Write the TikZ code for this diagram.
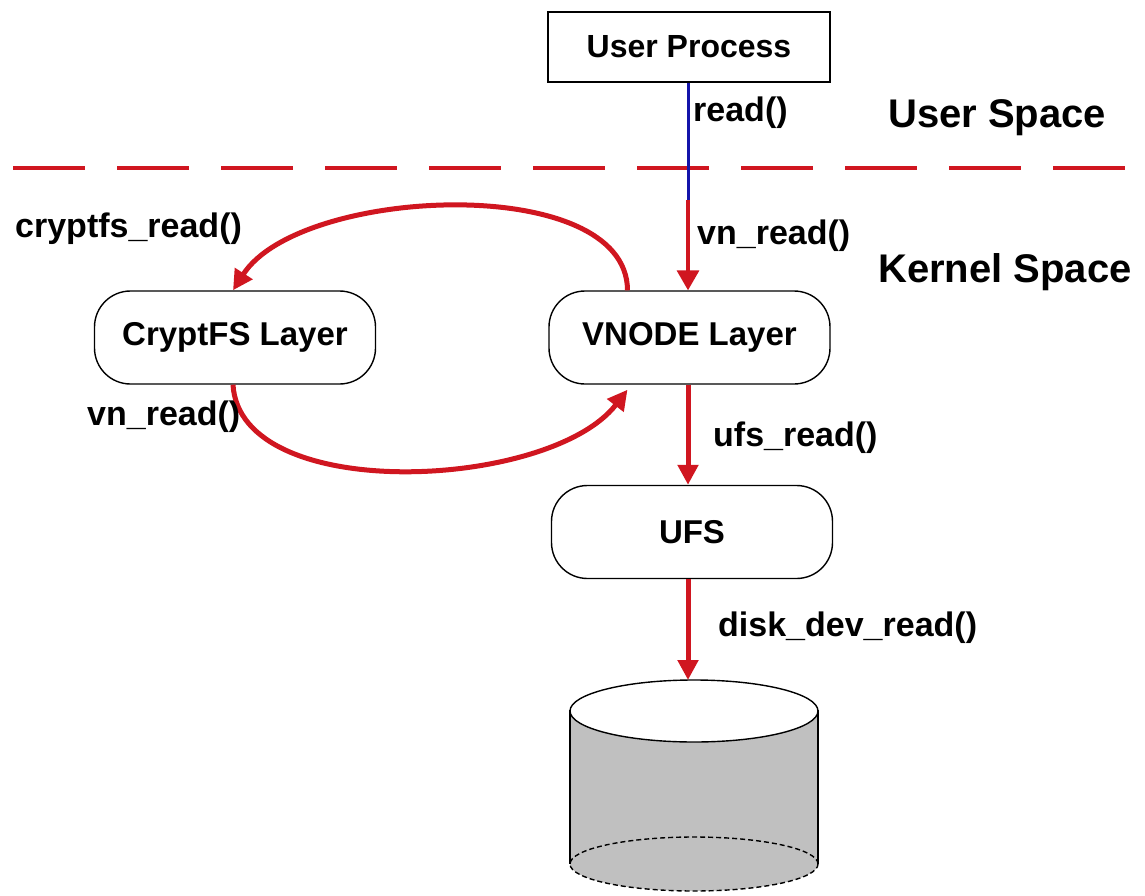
\documentclass[tikz,border=0pt]{standalone}
\usepackage{fontspec}
\setmainfont{Liberation Sans}
\usetikzlibrary{arrows.meta}
\definecolor{myred}{RGB}{208,22,32}
\definecolor{myblue}{RGB}{20,20,170}
\definecolor{diskgray}{RGB}{192,192,192}
\tikzset{
  layer/.style={draw=black, line width=1.4pt, rounded corners=36pt, minimum width=281pt, minimum height=93pt, inner sep=0pt,
    font=\fontsize{33}{40}\selectfont\bfseries},
  procbox/.style={draw=black, line width=1.4pt, minimum width=282pt, minimum height=70pt, inner sep=0pt,
    font=\fontsize{32}{38}\selectfont\bfseries},
  lbl/.style={anchor=west, inner sep=0pt, font=\fontsize{34}{40}\selectfont\bfseries},
  spacelbl/.style={anchor=west, inner sep=0pt, font=\fontsize{40}{46}\selectfont\bfseries},
  flow/.style={draw=myred, line width=5pt, -{Triangle[length=20pt,width=20pt]}},
}
\begin{document}
\begin{tikzpicture}[x=1pt,y=1pt]
\useasboundingbox (0,0) rectangle (1145,-896);

% nodes
\node[procbox] (user) at (689,-47) {User Process};
\node[layer] (crypt) at (235,-337.5) {CryptFS Layer};
\node[layer] (vnode) at (689.5,-337.5) {VNODE Layer};
\node[layer] (ufs) at (692,-532) {UFS};

% disk cylinder
\coordinate (cyltop) at (692,-680);
\coordinate (split) at (688,-200);
\fill[diskgray] (570,-710) -- (570,-864) arc[start angle=180,end angle=360,x radius=124,y radius=27] -- (818,-710) -- cycle;
\draw[line width=1.4pt] (570,-710) -- (570,-864);
\draw[line width=1.4pt] (818,-710) -- (818,-864);
\draw[line width=1.4pt, dashed, dash pattern=on 5pt off 3pt] (694,-864) ellipse[x radius=124, y radius=27];
\draw[line width=1.4pt, fill=white] (694,-711) ellipse[x radius=124, y radius=31];

% dashed boundary
\draw[myred, line width=4pt, dash pattern=on 72pt off 32pt] (13,-168) -- (1135,-168);

% read() / vn_read()
\draw[myblue, line width=3pt] (user.south -| split) -- (split);
\draw[myred, line width=3.5pt, -{Triangle[length=20pt,width=22pt]}] (split) -- (vnode.north -| split);

% layer arrows
\draw[flow] (vnode.south -| split) -- (ufs.north -| split);
\draw[flow] (ufs.south -| split) -- (cyltop -| split);

% loops
\draw[flow] ([xshift=-62pt]vnode.north) .. controls (627,-172) and (300,-186) .. ([xshift=-2pt]crypt.north);
\draw[flow] ([xshift=-2pt]crypt.south) .. controls (240,-505) and (550,-490) .. ([xshift=-62pt,yshift=-5pt]vnode.south);

% labels
\node[lbl] (lread) at (693,-113) {read()};
\node[spacelbl] (lus) at (888,-118) {User Space};
\node[lbl] (lvn) at (697,-236) {vn\_read()};
\node[spacelbl] (lks) at (878,-272) {Kernel Space};
\node[lbl] (lcr) at (15,-229) {cryptfs\_read()};
\node[lbl] (lvn2) at (87,-417) {vn\_read()};
\node[lbl] (lufs) at (713,-438) {ufs\_read()};
\node[lbl] (ldisk) at (718,-628) {disk\_dev\_read()};
\end{tikzpicture}
\end{document}
